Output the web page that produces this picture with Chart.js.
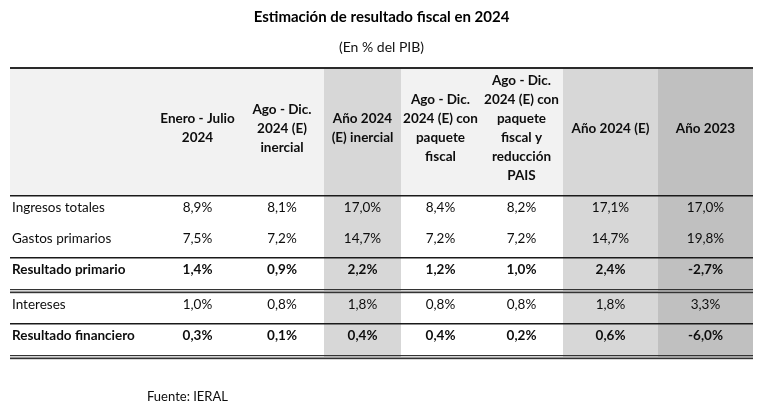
<!DOCTYPE html>
<html>
<head>
<meta charset="utf-8">
<script src="https://cdn.jsdelivr.net/npm/chart.js@4.4.1/dist/chart.umd.min.js"></script>
<style>
  html, body { margin: 0; padding: 0; background: #fff; }
  #wrap { width: 763px; height: 414px; }
</style>
</head>
<body>
<div id="wrap"><canvas id="tabla"></canvas></div>
<script>
'use strict';

// Datos (en % del PIB)
const columnHeaders = [
  [],
  ['Enero - Julio', '2024'],
  ['Ago - Dic.', '2024 (E)', 'inercial'],
  ['Año 2024', '(E) inercial'],
  ['Ago - Dic.', '2024 (E) con', 'paquete', 'fiscal'],
  ['Ago - Dic.', '2024 (E) con', 'paquete', 'fiscal y', 'reducción', 'PAIS'],
  ['Año 2024 (E)'],
  ['Año 2023']
];
const rowLabels = ['Ingresos totales', 'Gastos primarios', 'Resultado primario', 'Intereses', 'Resultado financiero'];
const boldRows = [false, false, true, false, true];

const eneroJulio2024 = [8.9, 7.5, 1.4, 1.0, 0.3];
const agoDicInercial = [8.1, 7.2, 0.9, 0.8, 0.1];
const anio2024Inercial = [17.0, 14.7, 2.2, 1.8, 0.4];
const agoDicPaquete = [8.4, 7.2, 1.2, 0.8, 0.4];
const agoDicPaqueteReduccion = [8.2, 7.2, 1.0, 0.8, 0.2];
const anio2024 = [17.1, 14.7, 2.4, 1.8, 0.6];
const anio2023 = [17.0, 19.8, -2.7, 3.3, -6.0];

const series = [eneroJulio2024, agoDicInercial, anio2024Inercial, agoDicPaquete,
  agoDicPaqueteReduccion, anio2024, anio2023];

// layout de la tabla, en px desde su esquina
const colEdges = [0, 145, 230, 314, 391, 470, 553, 648, 743];
const headerHeight = 128;
const rowEdges = [128, 159, 190, 222, 256, 288];
const tableHeight = 291;
const colFill = [null, null, null, '#d7d7d7', null, null, '#d7d7d7', '#c0c0c0'];
const headerFill = '#f2f2f2';
const FONT = 'Lato';

function fmt(v) {
  return v.toFixed(1).replace('.', ',') + '%';
}

const tablePlugin = {
  id: 'tabla',
  beforeDatasetsDraw(chart) {
    const { ctx, scales: { x, y } } = chart;
    const px = v => x.getPixelForValue(v);
    const py = v => y.getPixelForValue(v);
    ctx.save();

    // fondos
    ctx.fillStyle = headerFill;
    ctx.fillRect(px(0), py(0), px(743) - px(0), py(headerHeight) - py(0));
    colFill.forEach((c, i) => {
      if (!c) return;
      ctx.fillStyle = c;
      ctx.fillRect(px(colEdges[i]), py(0), px(colEdges[i + 1]) - px(colEdges[i]), py(tableHeight) - py(0));
    });

    // líneas
    const line = (v, w, col) => {
      ctx.fillStyle = col;
      ctx.fillRect(px(0), Math.round(py(v)), px(743) - px(0), w);
    };
    line(0, 2, '#2a2a2a');
    line(headerHeight, 1.5, '#1a1a1a');
    line(190, 1.5, '#1a1a1a');
    line(222, 1.2, '#333');
    line(224, 1, '#999');
    line(225, 1.2, '#333');
    line(256, 1.5, '#1a1a1a');
    line(288, 1.2, '#333');
    line(290, 1, '#999');
    line(291, 1.2, '#333');

    // encabezados
    ctx.fillStyle = '#0d0d0d';
    ctx.textAlign = 'center';
    ctx.textBaseline = 'middle';
    ctx.font = 'bold 13.5px ' + FONT;
    const lh = 19;
    columnHeaders.forEach((lines, i) => {
      const cx = px((colEdges[i] + colEdges[i + 1]) / 2);
      const cy = py(headerHeight / 2 - 3);
      lines.forEach((t, k) => {
        ctx.fillText(t, cx, cy + (k - (lines.length - 1) / 2) * lh);
      });
    });

    // filas
    rowLabels.forEach((label, r) => {
      const top = r === 3 ? 225 : rowEdges[r];
      const cy = py((top + rowEdges[r + 1]) / 2 - 3);
      ctx.font = (boldRows[r] ? 'bold ' : '') + '13.5px ' + FONT;
      ctx.textAlign = 'left';
      ctx.fillText(label, px(2), cy);
      ctx.textAlign = 'center';
      series.forEach((vals, c) => {
        const cx = px((colEdges[c + 1] + colEdges[c + 2]) / 2);
        ctx.fillText(fmt(vals[r]), cx, cy);
      });
    });

    // fuente
    ctx.font = '13px ' + FONT;
    ctx.textAlign = 'left';
    ctx.fillText('Fuente: IERAL', 147, 397);
    ctx.restore();
  }
};

new Chart(document.getElementById('tabla'), {
  type: 'scatter',
  data: { datasets: [] },
  options: {
    responsive: true,
    maintainAspectRatio: false,
    animation: false,
    events: [],
    layout: { padding: { left: 10, right: 10, top: 0, bottom: 56 } },
    scales: {
      x: { type: 'linear', display: false, min: 0, max: 743 },
      y: { type: 'linear', display: false, min: 0, max: tableHeight, reverse: true }
    },
    plugins: {
      legend: { display: false },
      tooltip: { enabled: false },
      title: {
        display: true,
        text: 'Estimación de resultado fiscal en 2024',
        color: '#000',
        font: { family: FONT, size: 15, weight: 'bold', lineHeight: 1.2 },
        padding: { top: 8, bottom: 13 }
      },
      subtitle: {
        display: true,
        text: '(En % del PIB)',
        color: '#111',
        font: { family: FONT, size: 14, lineHeight: 1.2 },
        padding: { top: 0, bottom: 11.4 }
      }
    }
  },
  plugins: [tablePlugin]
});
</script>
</body>
</html>
